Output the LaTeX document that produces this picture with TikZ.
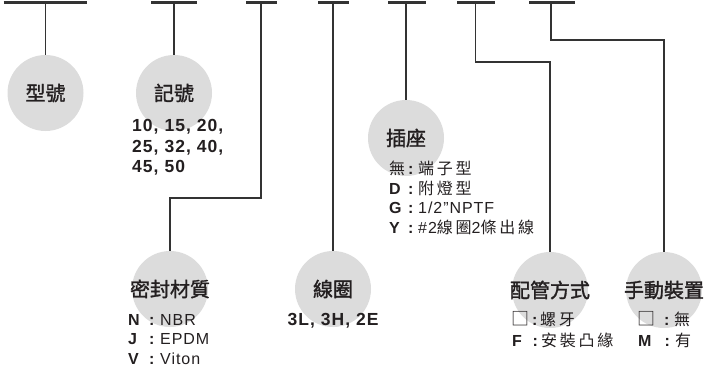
\documentclass[tikz,border=0pt]{standalone}
\usepackage{fontspec}
\setmainfont{Liberation Sans}[LetterSpace=6]
\newfontfamily\cjk{Noto Sans CJK TC}[LetterSpace=17]
\newfontfamily\cjkt{Noto Sans CJK TC}[FakeBold=1.5]
\definecolor{ink}{HTML}{231F20}
\definecolor{discgray}{HTML}{DCDCDC}
\definecolor{wiregray}{HTML}{333333}
% label box width, colon box width, label, text
\newcommand\lrow[4]{\makebox[#1pt][l]{#3}\makebox[#2pt][c]{\textbf{:}}#4}
\newcommand\sq{{\cjk\fontsize{18}{18}\selectfont □}}
\tikzset{
  disc/.style={circle, fill=discgray, minimum size=76pt, inner sep=0pt},
  title/.style={font=\cjkt\fontsize{20}{24}\selectfont, text=ink, inner sep=0pt},
  item/.style={font=\fontsize{16}{19}\selectfont, text=ink, inner sep=0pt, anchor=base west},
  num/.style={font=\bfseries\fontsize{17.5}{20}\selectfont, text=ink, inner sep=0pt, anchor=base west},
  bar/.style={draw=wiregray, line width=2.4pt},
  wire/.style={draw=wiregray, line width=1.7pt},
}
\begin{document}
\begin{tikzpicture}[x=1pt,y=-1pt]
\useasboundingbox (0,0) rectangle (706,372);
% top bars
\coordinate (b1a) at (3.5,2.5);  \coordinate (b1b) at (87,2.5);   \coordinate (t1) at (45.5,2.5);
\coordinate (b2a) at (151,2.5);  \coordinate (b2b) at (196.5,2.5); \coordinate (t2) at (174,2.5);
\coordinate (b3a) at (246,2.5);  \coordinate (b3b) at (276.5,2.5); \coordinate (t3) at (261,2.5);
\coordinate (b4a) at (318,2.5);  \coordinate (b4b) at (348.5,2.5); \coordinate (t4) at (333,2.5);
\coordinate (b5a) at (388,2.5);  \coordinate (b5b) at (426,2.5);   \coordinate (t5) at (406,2.5);
\coordinate (b6a) at (457,2.5);  \coordinate (b6b) at (494.5,2.5); \coordinate (t6) at (475.5,2.5);
\coordinate (b7a) at (529,2.5);  \coordinate (b7b) at (574.5,2.5); \coordinate (t7) at (551,2.5);
\foreach \i in {1,...,7} {\draw[bar] (b\i a) -- (b\i b);}
% discs
\node[disc] (c1) at (45.5,93) {};
\node[disc] (c2) at (174,93) {};
\node[disc] (c3) at (406,138) {};
\node[disc] (c4) at (170,289) {};
\node[disc] (c5) at (333,289) {};
\node[disc] (c6) at (550,290) {};
\node[disc] (c7) at (664,290) {};
% connectors
\coordinate (k3) at (170,198);
\coordinate (k6) at (550,62);
\coordinate (k7) at (664,40);
\draw[wire] (t1) -- (c1.north);
\draw[wire] (t2) -- (c2.north);
\draw[wire] (t3) |- (k3) -- (c4.north);
\draw[wire] (t4) -- (c5.north);
\draw[wire] (t5) -- (c3.north);
\draw[wire] (t6) |- (k6) -- (c6.north);
\draw[wire] (t7) |- (k7) -- (c7.north);
% titles
\node[title] (h1) at (c1) {型號};
\node[title] (h2) at (c2) {記號};
\node[title] (h3) at (c3) {插座};
\node[title] (h4) at (c4) {密封材質};
\node[title] (h5) at (c5) {線圈};
\node[title] (h6) at (c6) {配管方式};
\node[title] (h7) at (c7) {手動裝置};
% sizes
\node[num] (n1) at (132,131) {10, 15, 20,};
\node[num] (n2) at (132,152) {25, 32, 40,};
\node[num] (n3) at (132,172) {45, 50};
% socket
\node[item] (p1) at (389,174.5) {\lrow{15}{14}{\cjk 無}{\cjk 端子型}};
\node[item] (p2) at (389,194) {\lrow{15}{14}{\textbf{D}}{\cjk 附燈型}};
\node[item] (p3) at (389,213.5) {\lrow{15}{14}{\textbf{G}}{1/2\char34 NPTF}};
\node[item] (p4) at (389,233.5) {\lrow{15}{14}{\textbf{Y}}{\#2{\cjk 線圈}2{\cjk 條出線}}};
% seal
\node[item] (s1) at (128,325) {\lrow{16}{16}{\textbf{N}}{NBR}};
\node[item] (s2) at (128,344.5) {\lrow{16}{16}{\textbf{J}}{EPDM}};
\node[item] (s3) at (128,364) {\lrow{16}{16}{\textbf{V}}{Viton}};
% coil
\node[num, anchor=base] (v1) at (333,325) {3L, 3H, 2E};
% piping
\node[item] (q1) at (511,325) {\lrow{19}{10}{\sq}{\cjk 螺牙}};
\node[item] (q2) at (512,346.5) {\lrow{18}{11}{\textbf{F}}{\cjk 安裝凸緣}};
% manual
\node[item] (m1) at (637,325) {\lrow{23}{14}{\sq}{\cjk 無}};
\node[item] (m2) at (638,346.5) {\lrow{22}{15}{\textbf{M}}{\cjk 有}};
\end{tikzpicture}
\end{document}
